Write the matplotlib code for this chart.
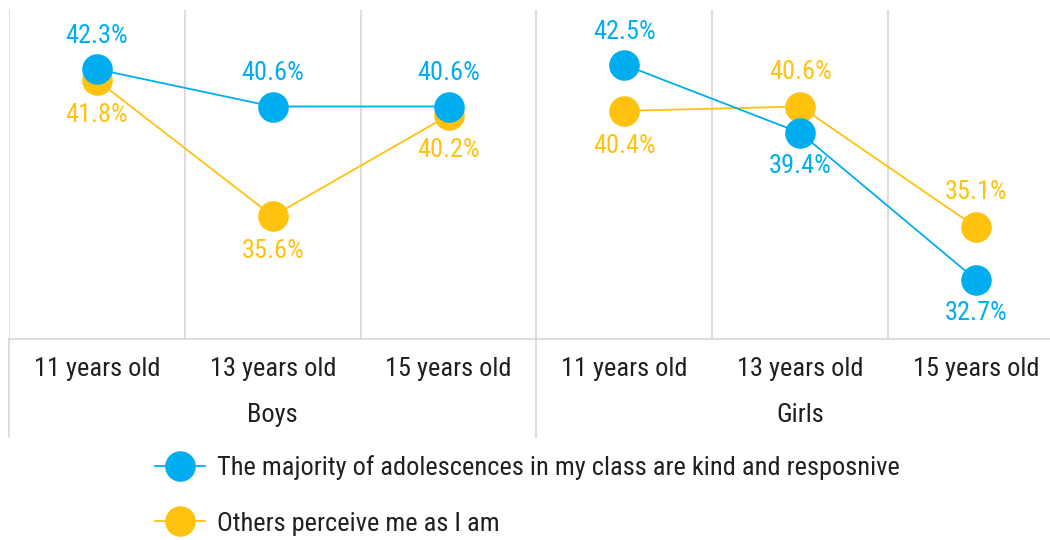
import matplotlib
matplotlib.use("Agg")
import matplotlib.pyplot as plt
from matplotlib import font_manager
from matplotlib.lines import Line2D

# ---- data ----
groups = ["Boys", "Girls"]
ages = ["11 years old", "13 years old", "15 years old"]
series_names = ["The majority of adolescences in my class are kind and resposnive",
                "Others perceive me as I am"]
kind_boys = [42.3, 40.6, 40.6]
kind_girls = [42.5, 39.4, 32.7]
perceive_boys = [41.8, 35.6, 40.2]
perceive_girls = [40.4, 40.6, 35.1]
# label placement: +1 above, -1 below
kind_pos = [1, 1, 1, 1, -1, -1]
perceive_pos = [-1, -1, -1, -1, 1, 1]

BLUE = "#00AEEF"
ORANGE = "#FFC20E"
GRID = "#DAD5D0"
TEXT = "#231F20"

available = {f.name for f in font_manager.fontManager.ttflist}
family = "DejaVu Sans"
for cand in ["Roboto Condensed", "Liberation Sans Narrow", "Open Sans Condensed",
             "Noto Sans Condensed", "Roboto", "Liberation Sans"]:
    if cand in available:
        family = cand
        break
plt.rcParams["font.family"] = [family, "DejaVu Sans"]

W, H = 1050, 540
fig = plt.figure(figsize=(W / 100, H / 100), dpi=100)
left_px, right_px, top_px, bot_px = 9, 1064, 10, 339
ax = fig.add_axes([left_px / W, (H - bot_px) / H, (right_px - left_px) / W, (bot_px - top_px) / H])
ax.set_xlim(-0.5, 5.5)
ax.set_ylim(30, 45)

for s in ["top", "right", "left"]:
    ax.spines[s].set_visible(False)
ax.spines["bottom"].set_color(GRID)
ax.spines["bottom"].set_linewidth(1.2)
ax.set_yticks([])

# vertical grid lines
for b in [-0.5, 0.5, 1.5, 2.5, 3.5, 4.5, 5.5]:
    ax.axvline(b, color=GRID, lw=1.2, zorder=0)
# group separators extend down
ext = -(437 - 339) / (bot_px - top_px)
for b in [-0.5, 2.5, 5.5]:
    ax.plot([b, b], [0, ext], color=GRID, lw=1.2, transform=ax.get_xaxis_transform(), clip_on=False)

FS = 19
xs_b = [0, 1, 2]
xs_g = [3, 4, 5]
ms = 21
ax.plot(xs_b, perceive_boys, color=ORANGE, lw=1.3, marker="o", ms=ms, zorder=3)
ax.plot(xs_g, perceive_girls, color=ORANGE, lw=1.3, marker="o", ms=ms, zorder=3)
ax.plot(xs_b, kind_boys, color=BLUE, lw=1.3, marker="o", ms=ms, zorder=4)
ax.plot(xs_g, kind_girls, color=BLUE, lw=1.3, marker="o", ms=ms, zorder=4)

kind_all = kind_boys + kind_girls
perc_all = perceive_boys + perceive_girls
for i, (v, p) in enumerate(zip(kind_all, kind_pos)):
    ax.annotate(f"{v:.1f}%", (i, v), xytext=(0, 24 * p), textcoords="offset points",
                ha="center", va="center", color=BLUE, fontsize=FS)
for i, (v, p) in enumerate(zip(perc_all, perceive_pos)):
    ax.annotate(f"{v:.1f}%", (i, v), xytext=(0, 25 * p), textcoords="offset points",
                ha="center", va="center", color=ORANGE, fontsize=FS)

ax.set_xticks(range(6))
ax.set_xticklabels(ages * 2, fontsize=FS, color=TEXT)
ax.tick_params(axis="x", length=0, pad=13)

for gi, g in enumerate(groups):
    ax.text(1 + 3 * gi, -(415 - 339) / (bot_px - top_px), g, transform=ax.get_xaxis_transform(),
            ha="center", va="center", fontsize=FS, color=TEXT)

handles = [Line2D([], [], color=BLUE, lw=1.3, marker="o", ms=ms),
           Line2D([], [], color=ORANGE, lw=1.3, marker="o", ms=ms)]
leg = fig.legend(handles, series_names, loc="upper left", bbox_to_anchor=(155 / W, 1 - 455 / H),
                 frameon=False, fontsize=FS, handlelength=1.9, labelspacing=1.2,
                 handletextpad=0.45, borderaxespad=0, borderpad=0)
for t in leg.get_texts():
    t.set_color(TEXT)

fig.savefig("out.png", dpi=100)
